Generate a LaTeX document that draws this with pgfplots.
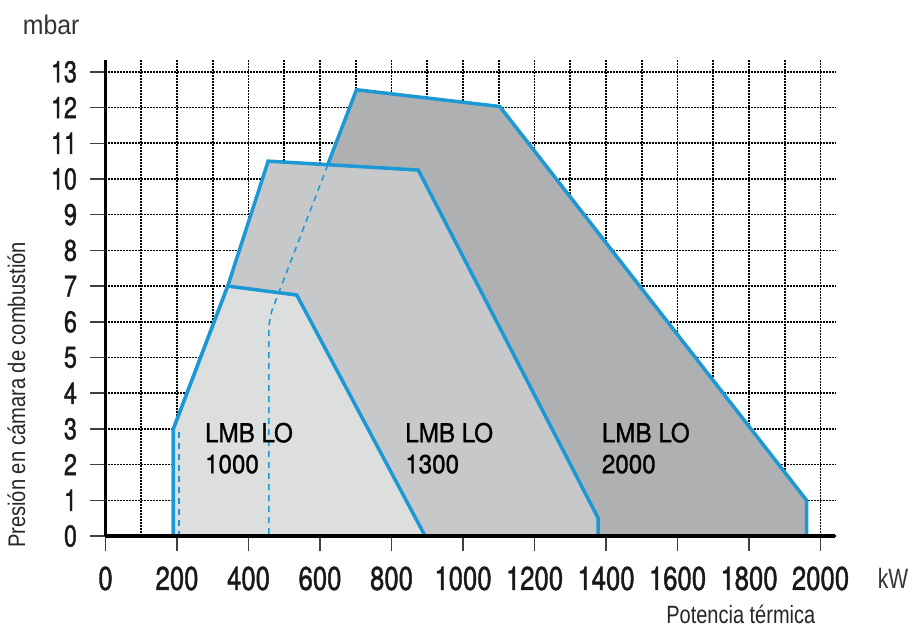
\documentclass[border=0pt]{standalone}
\usepackage{pgfplots}
\pgfplotsset{compat=1.18}
\usepackage{fontspec}
\setmainfont{Liberation Sans}
\newfontfamily\numfont[FakeStretch=0.78, FakeBold=1.2]{TeX Gyre Heros}
\newfontfamily\lblfont[FakeStretch=0.93, FakeBold=1.2]{TeX Gyre Heros}
\newfontfamily\mbarfont[FakeStretch=0.92]{Liberation Sans}
\newfontfamily\condfont[FakeStretch=0.8]{Liberation Sans}
\newfontfamily\kwfont[FakeStretch=0.75]{Liberation Sans}
\newfontfamily\ylabfont[FakeStretch=0.84]{Liberation Sans}

\definecolor{lmbblue}{RGB}{28,152,212}
\definecolor{fillA}{RGB}{221,222,222}
\definecolor{fillB}{RGB}{199,200,202}
\definecolor{fillC}{RGB}{174,176,178}

\begin{document}
\begin{tikzpicture}
\begin{axis}[
    x=0.3575pt, y=35.7pt,
    xmin=0, xmax=2040,
    ymin=0, ymax=13.33,
    axis lines*=left,
    axis line style={-, line width=3.5pt, black},
    xtick={0,200,...,2000},
    minor xtick={100,300,...,1900},
    ytick={0,1,...,13},
    tick align=outside,
    major tick length=15pt,
    minor tick length=0pt,
    tick style={line width=1.5pt, black!75},
    xmajorgrids, xminorgrids, ymajorgrids,
    major grid style={black, line width=1.6pt, dash pattern=on 2pt off 1pt},
    minor grid style={black, line width=1.6pt, dash pattern=on 2pt off 1pt},
    clip=false,
    /pgf/number format/assume math mode=true,
    /pgf/number format/1000 sep={},
    xticklabel style={font={\numfont\fontsize{33}{33}\selectfont}, text=black!90, yshift=-12pt},
    yticklabel style={font={\numfont\fontsize{30}{30}\selectfont}, text=black!90, xshift=-10pt},
]

% LMB LO 2000
\addplot[fill=fillC, draw=none] coordinates {(457,0) (457,6.1) (702,12.5) (1103,12.03) (1961,1) (1961,0)} -- cycle;
\addplot[lmbblue, line width=3.5pt] coordinates {(457,6.1) (702,12.5) (1103,12.03) (1961,1) (1961,0)};

% LMB LO 1300
\addplot[fill=fillB, draw=none] coordinates {(190,0) (190,3) (342,7) (455,10.5) (875,10.25) (1378,0.5) (1378,0)} -- cycle;
\addplot[lmbblue, line width=3.5pt] coordinates {(190,0) (190,3) (342,7) (455,10.5) (875,10.25) (1378,0.5) (1378,0)};

% LMB LO 1000
\addplot[fill=fillA, draw=none] coordinates {(190,0) (190,3) (342,7) (535,6.75) (894,0)} -- cycle;
\addplot[lmbblue, line width=3.5pt] coordinates {(190,0) (190,3) (342,7) (535,6.75) (894,0)};

% hidden edges
\addplot[lmbblue, line width=1.5pt, dash pattern=on 6pt off 5pt] coordinates {(622,10.4) (465,6.3) (457,5.9) (457,0)};
\addplot[lmbblue, line width=1.3pt, dash pattern=on 6pt off 5pt] coordinates {(206,2.9) (206,0)};

% bottom axis line again, over the areas
\addplot[black, line width=3.5pt] coordinates {(0,0) (2040,0)};

\node[anchor=west, align=left, inner sep=0pt, font={\lblfont\fontsize{26}{31}\selectfont}] at (axis cs:278,2.46) {LMB LO\\1000};
\node[anchor=west, align=left, inner sep=0pt, font={\lblfont\fontsize{26}{31}\selectfont}] at (axis cs:838,2.46) {LMB LO\\1300};
\node[anchor=west, align=left, inner sep=0pt, font={\lblfont\fontsize{26}{31}\selectfont}] at (axis cs:1388,2.46) {LMB LO\\2000};

\node[inner sep=0pt, font={\mbarfont\fontsize{27}{27}\selectfont}, text=black!80] at (axis cs:-152,14.31) {mbar};
\node[inner sep=0pt, font={\kwfont\fontsize{28}{28}\selectfont}, text=black!80] at (axis cs:2203,-1.2) {kW};
\node[inner sep=0pt, font={\condfont\fontsize{25}{25}\selectfont}, text=black!85] at (axis cs:1777,-2.21) {Potencia térmica};
\node[inner sep=0pt, rotate=90, font={\ylabfont\fontsize{24}{24}\selectfont}, text=black!85] at (axis cs:-249,3.95) {Presión en cámara de combustión};
\end{axis}
\path (-105.5pt,-93pt) rectangle (809.5pt,536pt);
\end{tikzpicture}
\end{document}
